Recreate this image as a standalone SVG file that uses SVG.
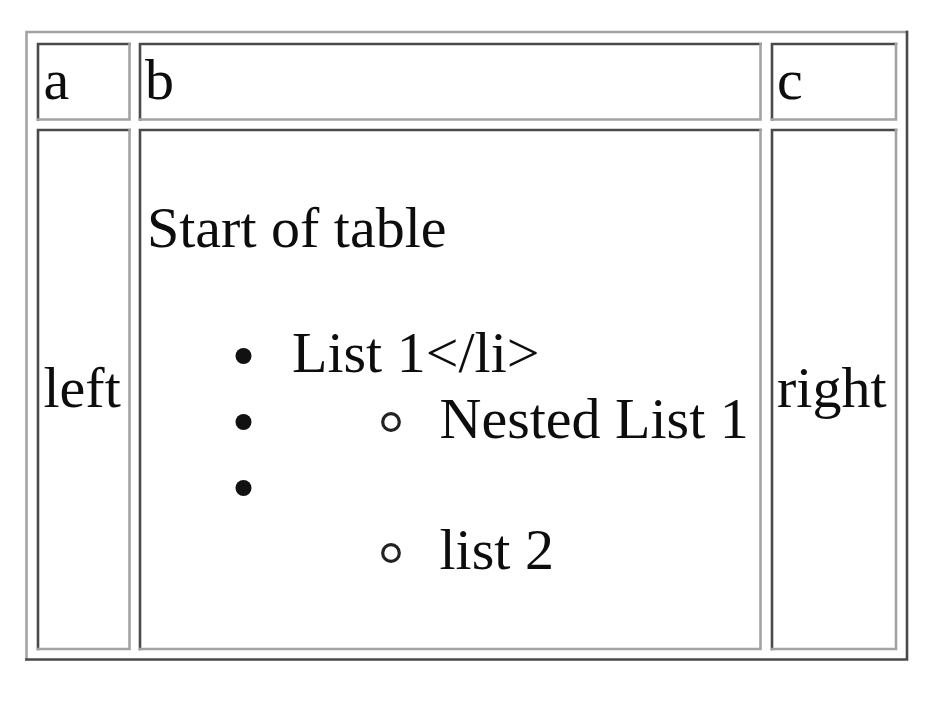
<svg xmlns="http://www.w3.org/2000/svg" width="951" height="713" viewBox="0 0 951 713">
<style>
.bg{fill:#ffffff}
.dk{fill:none;stroke:#4a4a4a;stroke-width:2.6;stroke-linecap:square}
.lt{fill:none;stroke:#a3a3a3;stroke-width:2.6;stroke-linecap:square}
.t{font-family:"Liberation Serif","Times New Roman",serif;font-size:58px;fill:#0d0d0d}
.disc{fill:#111}
.ring{fill:none;stroke:#222;stroke-width:3.2}
</style>
<rect class="bg" x="0" y="0" width="951" height="713"/>
<g id="table">
  <path class="lt" d="M26.5,659.5 V32 H907"/>
  <path class="dk" d="M907,32 V659.5 H26.5"/>
</g>
<g id="cell-a">
  <path class="dk" d="M38,119.5 V44 H129.5"/>
  <path class="lt" d="M129.5,44 V119.5 H38"/>
  <text class="t" x="43.5" y="99">a</text>
</g>
<g id="cell-b">
  <path class="dk" d="M140,119.5 V44 H760.5"/>
  <path class="lt" d="M760.5,44 V119.5 H140"/>
  <text class="t" x="145" y="99">b</text>
</g>
<g id="cell-c">
  <path class="dk" d="M772,119.5 V44 H896"/>
  <path class="lt" d="M896,44 V119.5 H772"/>
  <text class="t" x="777" y="99">c</text>
</g>
<g id="cell-left">
  <path class="dk" d="M38,649 V130 H129.5"/>
  <path class="lt" d="M129.5,130 V649 H38"/>
  <text class="t" x="43.5" y="407">left</text>
</g>
<g id="cell-main">
  <path class="dk" d="M140,649 V130 H760.5"/>
  <path class="lt" d="M760.5,130 V649 H140"/>
  <text class="t" x="147" y="247">Start of table</text>
  <circle class="disc" cx="243.5" cy="356" r="8"/>
  <text class="t" x="292" y="372">List 1&lt;/li&gt;</text>
  <circle class="disc" cx="243.5" cy="422" r="8"/>
  <circle class="ring" cx="391" cy="422" r="8.3"/>
  <text class="t" x="439.5" y="437.5">Nested List 1</text>
  <circle class="disc" cx="243.5" cy="488" r="8"/>
  <circle class="ring" cx="391" cy="553" r="8.3"/>
  <text class="t" x="439.5" y="568.5">list 2</text>
</g>
<g id="cell-right">
  <path class="dk" d="M772,649 V130 H896"/>
  <path class="lt" d="M896,130 V649 H772"/>
  <text class="t" x="777" y="407">right</text>
</g>
</svg>
